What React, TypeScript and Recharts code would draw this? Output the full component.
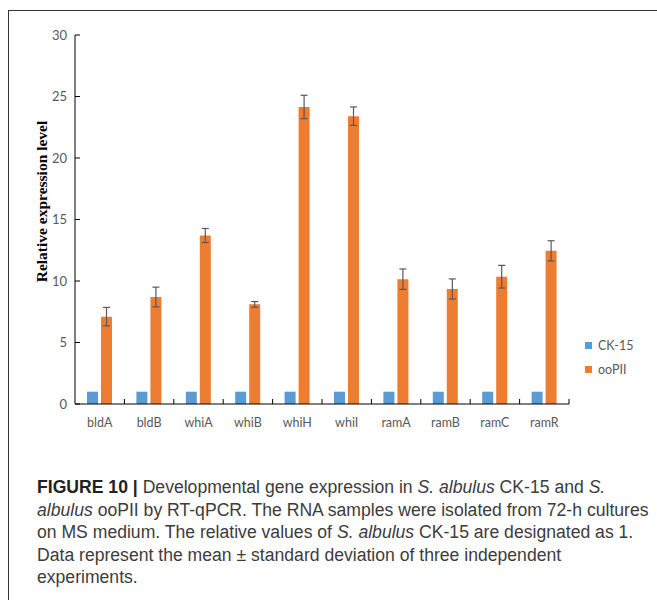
import React from "react";
import { BarChart, Bar, XAxis, YAxis, ErrorBar } from "recharts";

const genes = ["bldA", "bldB", "whiA", "whiB", "whiH", "whiI", "ramA", "ramB", "ramC", "ramR"];
const ck15 = [1, 1, 1, 1, 1, 1, 1, 1, 1, 1];
const ooPII = [7.1, 8.7, 13.7, 8.1, 24.15, 23.4, 10.15, 9.35, 10.35, 12.45];
const ooPIIErr = [0.75, 0.8, 0.57, 0.23, 0.95, 0.75, 0.83, 0.82, 0.92, 0.82];
const yTicks = [0, 5, 10, 15, 20, 25, 30];

const seriesNames = ["CK-15", "ooPII"];
const seriesColors = ["#5B9BD5", "#ED7D31"];

const data = genes.map((g, i) => ({
  gene: g,
  ck15: ck15[i],
  ooPII: ooPII[i],
  err: ooPIIErr[i],
}));

const CHART_W = 657;
const CHART_H = 440;
const MARGIN = { top: 35, right: 88, bottom: 6, left: 30 };
const Y_AXIS_W = 45;
const PLOT_W = CHART_W - MARGIN.left - Y_AXIS_W - MARGIN.right;
const STEP = PLOT_W / genes.length;
const tickFont = "Lato, 'Liberation Sans', sans-serif";

const XTick = (props: any) => {
  const { x, y, payload } = props;
  return (
    <g>
      <line x1={x + STEP / 2} x2={x + STEP / 2} y1={y - 5} y2={y} stroke="#000" />
      <text x={x} y={y + 23} textAnchor="middle" fill="#595959" fontSize={12.5} fontFamily={tickFont}>
        {payload.value}
      </text>
    </g>
  );
};

const YTick = (props: any) => {
  const { x, y, payload } = props;
  return (
    <g>
      <line x1={x} x2={x + 5} y1={y} y2={y} stroke="#000" />
      <text x={x - 8} y={y + 4.5} textAnchor="end" fill="#595959" fontSize={13} fontFamily={tickFont}>
        {payload.value}
      </text>
    </g>
  );
};

const YLabel = (props: any) => {
  const { viewBox } = props;
  const cx = viewBox.x + 17;
  const cy = viewBox.y + viewBox.height / 2 - 18;
  return (
    <text
      x={cx}
      y={cy}
      transform={`rotate(-90 ${cx} ${cy})`}
      textAnchor="middle"
      fontFamily="'Liberation Serif', 'Times New Roman', serif"
      fontWeight="bold"
      fontSize={15.5}
      fill="#000"
    >
      Relative expression level
    </text>
  );
};

const App = () => {
  return (
    <div style={{ position: "fixed", left: 0, top: 0, width: 657, height: 600, background: "#fff" }}>
      <div
        style={{
          position: "absolute",
          left: 8,
          top: 10,
          width: 649,
          height: 590,
          borderLeft: "1px solid #333",
          borderTop: "1px solid #333",
        }}
      />
      <div style={{ position: "absolute", left: 0, top: 0 }}>
        <BarChart
          width={CHART_W}
          height={CHART_H}
          data={data}
          margin={MARGIN}
          barGap={3}
          barSize={11}
        >
          <XAxis
            dataKey="gene"
            height={30}
            tickSize={0}
            tickMargin={0}
            tickLine={false}
            tick={<XTick />}
            axisLine={{ stroke: "#000" }}
            interval={0}
          />
          <YAxis
            width={Y_AXIS_W}
            domain={[0, 30]}
            ticks={yTicks}
            tickSize={0}
            tickMargin={0}
            tickLine={false}
            tick={<YTick />}
            axisLine={{ stroke: "#000" }}
            label={<YLabel />}
          />
          <Bar dataKey="ck15" name={seriesNames[0]} fill={seriesColors[0]} isAnimationActive={false} />
          <Bar dataKey="ooPII" name={seriesNames[1]} fill={seriesColors[1]} isAnimationActive={false}>
            <ErrorBar dataKey="err" width={3.5} stroke="#595959" strokeWidth={1.2} direction="y" />
          </Bar>
        </BarChart>
      </div>
      <div
        style={{
          position: "absolute",
          left: 585,
          top: 333,
          fontFamily: tickFont,
          fontSize: 12.5,
          color: "#595959",
        }}
      >
        {seriesNames.map((n, i) => (
          <div key={n} style={{ display: "flex", alignItems: "center", height: 24 }}>
            <span style={{ width: 7, height: 7, background: seriesColors[i], marginRight: 6, display: "inline-block" }} />
            {n}
          </div>
        ))}
      </div>
      <div
        style={{
          position: "absolute",
          left: 37,
          top: 476,
          fontFamily: "'Liberation Sans', Arial, sans-serif",
          fontSize: 17.6,
          lineHeight: "22.5px",
          color: "#3c3c3c",
          whiteSpace: "nowrap",
        }}
      >
        <b style={{ color: "#222" }}>FIGURE 10 |</b> Developmental gene expression in <i>S. albulus</i> CK-15 and <i>S.</i>
        <br />
        <i>albulus</i> ooPII by RT-qPCR. The RNA samples were isolated from 72-h cultures
        <br />
        on MS medium. The relative values of <i>S. albulus</i> CK-15 are designated as 1.
        <br />
        Data represent the mean ± standard deviation of three independent
        <br />
        experiments.
      </div>
    </div>
  );
};

export default App;
